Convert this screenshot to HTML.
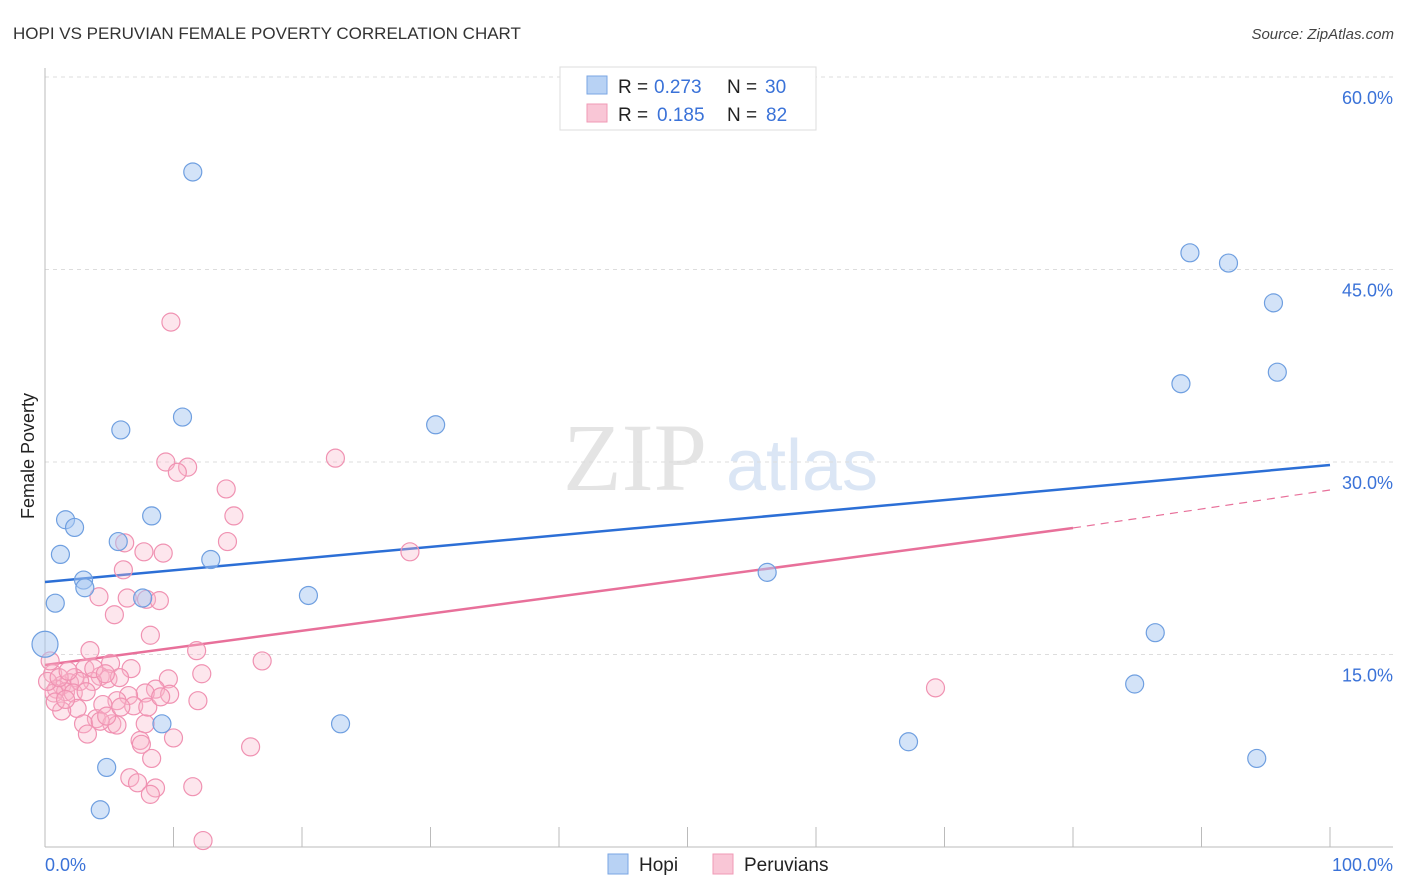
<!DOCTYPE html>
<html><head><meta charset="utf-8"><style>
body{margin:0;background:#fff;font-family:"Liberation Sans",sans-serif;}
svg{display:block}
</style></head><body>
<svg id="chart" width="1406" height="892" xmlns="http://www.w3.org/2000/svg">
<text x="13" y="39" font-size="17" fill="#333" font-family="Liberation Sans">HOPI VS PERUVIAN FEMALE POVERTY CORRELATION CHART</text>
<text x="1394" y="39" font-size="15" fill="#444" text-anchor="end" font-style="italic">Source: ZipAtlas.com</text>
<text transform="translate(34,456) rotate(-90)" font-size="18" fill="#222" text-anchor="middle">Female Poverty</text>
<g>
<text x="635" y="490" font-size="96" fill="#e4e4e4" text-anchor="middle" font-family="Liberation Serif">ZIP</text>
<text x="802" y="490" font-size="72" fill="#dbe6f5" text-anchor="middle">atlas</text>
</g>
<g id="grid"></g><g id="axes"></g><g id="lines"></g><g id="pts"></g>
<g>
<rect x="560" y="67" width="256" height="63" fill="#fff" stroke="#ddd"/>
<rect x="587" y="76" width="20" height="18" fill="#b8d2f4" stroke="#7aa6e3"/>
<text x="618" y="93" font-size="19" fill="#222">R =</text>
<text x="654" y="93" font-size="19" fill="#3a72d8">0.273</text>
<text x="727" y="93" font-size="19" fill="#222">N =</text>
<text x="765" y="93" font-size="19" fill="#3a72d8">30</text>
<rect x="587" y="104" width="20" height="18" fill="#f9c6d6" stroke="#f09ab6"/>
<text x="618" y="121" font-size="19" fill="#222">R =</text>
<text x="657" y="121" font-size="19" fill="#3a72d8">0.185</text>
<text x="727" y="121" font-size="19" fill="#222">N =</text>
<text x="766" y="121" font-size="19" fill="#3a72d8">82</text>
</g>
<g>
<rect x="608" y="854" width="20" height="20" fill="#b8d2f4" stroke="#7aa6e3"/>
<text x="639" y="871" font-size="19" fill="#222">Hopi</text>
<rect x="713" y="854" width="20" height="20" fill="#f9c6d6" stroke="#f09ab6"/>
<text x="744" y="871" font-size="19" fill="#222">Peruvians</text>
</g>
</svg>
<script>
const yTicks=[15,30,45,60];
const yTickLabels=["15.0%","30.0%","45.0%","60.0%"];
const xTicks=[0,10,20,30,40,50,60,70,80,90,100];
const hopiX=[11.5,1.6,2.3,1.2,0.8,3.0,3.1,5.9,8.3,5.7,7.6,10.7,12.9,20.5,30.4,9.1,23.0,4.8,4.3,0.0,56.2,89.1,92.1,95.6,88.4,95.9,86.4,84.8,67.2,94.3];
const hopiY=[52.6,25.5,24.9,22.8,19.0,20.8,20.2,32.5,25.8,23.8,19.4,33.5,22.4,19.6,32.9,9.6,9.6,6.2,2.9,15.8,21.4,46.3,45.5,42.4,36.1,37.0,16.7,12.7,8.2,6.9];
const peruX=[9.8,22.6,9.4,11.1,10.3,14.1,14.7,14.2,6.2,7.7,9.2,28.4,6.1,4.2,6.4,7.9,8.9,5.4,8.2,3.5,11.8,16.9,5.1,6.7,3.1,12.2,9.6,4.3,2.3,4.9,3.7,5.8,0.6,0.4,1.3,1.9,2.7,0.9,1.6,2.2,3.2,8.6,9.7,7.8,6.5,5.6,11.9,69.3,4.5,6.9,2.5,1.3,4.0,5.2,3.0,7.8,5.6,3.3,10.0,7.4,7.5,8.3,16.0,6.6,7.2,8.6,8.2,11.5,12.3,0.7,0.2,1.1,1.8,3.8,4.7,0.8,1.6,4.3,4.8,8.0,9.0,5.9];
const peruY=[40.9,30.3,30.0,29.6,29.2,27.9,25.8,23.8,23.7,23.0,22.9,23.0,21.6,19.5,19.4,19.3,19.2,18.1,16.5,15.3,15.3,14.5,14.3,13.9,13.9,13.5,13.1,13.3,13.2,13.1,12.9,13.2,13.5,14.5,12.6,12.8,12.9,12.3,12.1,12.0,12.1,12.3,11.9,12.0,11.8,11.4,11.4,12.4,11.1,11.0,10.8,10.6,10.0,9.6,9.6,9.6,9.5,8.8,8.5,8.3,8.0,6.9,7.8,5.4,5.0,4.6,4.1,4.7,0.5,12.0,12.9,13.2,13.7,13.9,13.5,11.3,11.5,9.8,10.2,10.9,11.7,10.9];
const hopiLine=[20.65,29.77];
const peruLine=[14.18,24.86,27.82];
const X0=45,X1=1330,YB=847,YT=77;
const sx=v=>X0+(X1-X0)*v/100;
const sy=v=>YB-(YB-YT)*v/60;
const NS="http://www.w3.org/2000/svg";
function mk(tag,attrs,parent){const e=document.createElementNS(NS,tag);for(const k in attrs)e.setAttribute(k,attrs[k]);document.getElementById(parent).appendChild(e);return e;}
yTicks.forEach((t,i)=>{
 const g=mk('line',{x1:X0,x2:1393,y1:sy(t),y2:sy(t),stroke:'#ddd','stroke-dasharray':'4,4'},'grid');
 
 
 const l=mk('text',{x:1393,y:sy(t)+27,'font-size':18,fill:'#3a72d8','text-anchor':'end'},'grid');
 l.textContent=yTickLabels[i];
 
 
});
const ax=mk('line',{x1:X0,x2:X0,y1:68,y2:YB,stroke:'#bbb'},'axes');


const bx=mk('line',{x1:X0,x2:1393,y1:YB,y2:YB,stroke:'#bbb'},'axes');


xTicks.forEach(t=>{const e=mk('line',{x1:sx(t),x2:sx(t),y1:YB-20,y2:YB,stroke:'#bbb'},'axes');
 
 });
const xl=mk('text',{x:45,y:871,'font-size':18,fill:'#3a72d8'},'axes');xl.textContent='0.0%';


const xr=mk('text',{x:1393,y:871,'font-size':18,fill:'#3a72d8','text-anchor':'end'},'axes');xr.textContent='100.0%';


const hl=mk('line',{x1:sx(0),y1:sy(hopiLine[0]),x2:sx(100),y2:sy(hopiLine[1]),stroke:'#2c6fd6','stroke-width':2.5},'lines');


const pl=mk('line',{x1:sx(0),y1:sy(peruLine[0]),x2:sx(80),y2:sy(peruLine[1]),stroke:'#e8709a','stroke-width':2.5},'lines');


const pd=mk('line',{x1:sx(80),y1:sy(peruLine[1]),x2:sx(100),y2:sy(peruLine[2]),stroke:'#e8709a','stroke-width':1.2,'stroke-dasharray':'8,6'},'lines');


peruX.forEach((v,i)=>{const c=mk('circle',{cx:sx(v),cy:sy(peruY[i]),r:9,fill:'rgba(248,182,204,0.35)',stroke:'#f092b2','stroke-width':1.2},'pts');
 
 });
hopiX.forEach((v,i)=>{const c=mk('circle',{cx:sx(v),cy:sy(hopiY[i]),r:(v===0?13:9),fill:'rgba(168,200,242,0.5)',stroke:'#6f9fe0','stroke-width':1.2},'pts');
 
 });
</script>
</body></html>
